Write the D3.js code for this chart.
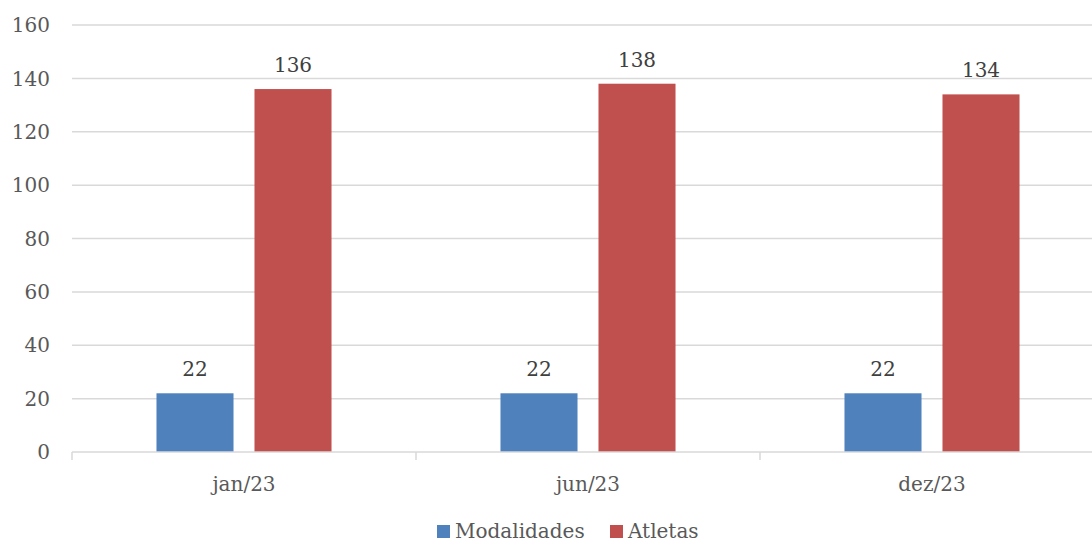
<!DOCTYPE html>
<html><head><meta charset="utf-8">
<script src="https://cdn.jsdelivr.net/npm/d3@7"></script>
<style>body{margin:0;background:#fff;} svg{display:block;}</style>
</head><body>
<svg id="c" width="1092" height="544"></svg>
<script>
const categories = ["jan/23", "jun/23", "dez/23"];
const seriesNames = ["Modalidades", "Atletas"];
const modalidades = [22, 22, 22];
const atletas = [136, 138, 134];
const yTicks = [0, 20, 40, 60, 80, 100, 120, 140, 160];
const colors = ["#4F81BD", "#C0504D"];

(function(){
const font = "'DejaVu Serif', serif";
const fs = 20;
const svg = d3.select("#c");
const pLeft = 72, pRight = 1104, pTop = 25, pBottom = 452;

const x = d3.scaleBand().domain(categories).range([pLeft, pRight]).paddingInner(0).paddingOuter(0);
const x1 = d3.scaleBand().domain(seriesNames).range([0, x.bandwidth()]).paddingInner(0.214).paddingOuter(0.862);
const y = d3.scaleLinear().domain([0, 160]).range([pBottom, pTop]);

svg.append("g").selectAll("line").data(yTicks.filter(d => d > 0)).join("line")
  .attr("x1", pLeft).attr("x2", 1092).attr("y1", d => y(d)).attr("y2", d => y(d))
  .attr("stroke", "#d9d9d9").attr("stroke-width", 1.5);

svg.append("g").selectAll("text").data(yTicks).join("text")
  .attr("x", 50).attr("y", d => y(d)).attr("dy", "0.36em").attr("text-anchor", "end")
  .attr("font-family", font).attr("font-size", fs).attr("fill", "#595959").text(d => d);

const data = categories.map((c, i) => ({cat: c, vals: [modalidades[i], atletas[i]]}));
const g = svg.append("g").selectAll("g").data(data).join("g").attr("transform", d => `translate(${x(d.cat)},0)`);
g.selectAll("rect").data(d => d.vals.map((v, j) => ({name: seriesNames[j], v, j}))).join("rect")
  .attr("x", d => x1(d.name)).attr("width", x1.bandwidth())
  .attr("y", d => y(d.v)).attr("height", d => y(0) - y(d.v))
  .attr("fill", d => colors[d.j]);
g.selectAll("text").data(d => d.vals.map((v, j) => ({name: seriesNames[j], v, j}))).join("text")
  .attr("x", d => x1(d.name) + x1.bandwidth() / 2).attr("y", d => y(d.v) - 17)
  .attr("text-anchor", "middle").attr("font-family", font).attr("font-size", fs).attr("fill", "#404040")
  .text(d => d.v);

svg.append("line").attr("x1", pLeft).attr("x2", 1092).attr("y1", pBottom).attr("y2", pBottom)
  .attr("stroke", "#d9d9d9").attr("stroke-width", 1.5);
svg.append("g").selectAll("line").data(categories).join("line")
  .attr("x1", d => x(d)).attr("x2", d => x(d)).attr("y1", pBottom).attr("y2", pBottom + 8)
  .attr("stroke", "#d9d9d9").attr("stroke-width", 1.5);
svg.append("g").selectAll("text").data(categories).join("text")
  .attr("x", d => x(d) + x.bandwidth() / 2).attr("y", 491).attr("text-anchor", "middle")
  .attr("font-family", font).attr("font-size", fs).attr("fill", "#595959").text(d => d);

const leg = svg.append("g");
const legItems = [{name: seriesNames[0], x: 437, c: colors[0]}, {name: seriesNames[1], x: 610, c: colors[1]}];
legItems.forEach(it => {
  leg.append("rect").attr("x", it.x).attr("y", 525).attr("width", 13).attr("height", 13).attr("fill", it.c);
  leg.append("text").attr("x", it.x + 18).attr("y", 538).attr("font-family", font).attr("font-size", fs)
    .attr("fill", "#595959").text(it.name);
});
})();
</script>
</body></html>
